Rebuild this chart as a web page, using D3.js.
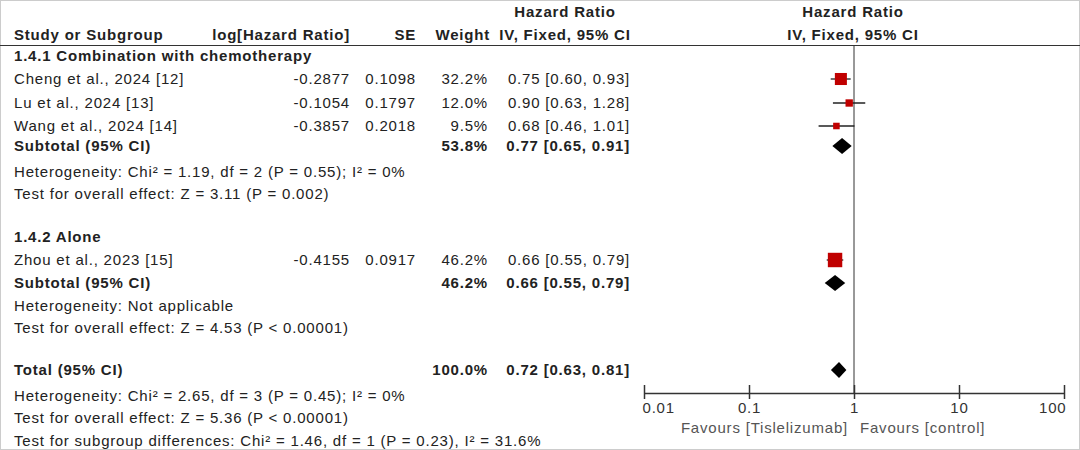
<!DOCTYPE html>
<html><head><meta charset="utf-8">
<script src="https://cdn.jsdelivr.net/npm/d3@7"></script>
<style>body{margin:0;background:#fff}svg{font-family:"Liberation Sans",Arial,sans-serif;font-size:15px;letter-spacing:0.8px}</style>
</head><body><svg width="1080" height="450"></svg>
<script>
// исследования
const studies = ["Cheng et al., 2024 [12]", "Lu et al., 2024 [13]", "Wang et al., 2024 [14]", "Zhou et al., 2023 [15]"];
const logHR = ["-0.2877", "-0.1054", "-0.3857", "-0.4155"];
const seVals = ["0.1098", "0.1797", "0.2018", "0.0917"];
const weights = [32.2, 12.0, 9.5, 46.2];
const hr = [0.75, 0.90, 0.68, 0.66];
const hrLo = [0.60, 0.63, 0.46, 0.55];
const hrHi = [0.93, 1.28, 1.01, 0.79];
// суммарные (подгруппы и итог)
const sumLabels = ["Subtotal (95% CI)", "Subtotal (95% CI)", "Total (95% CI)"];
const sumWeights = ["53.8%", "46.2%", "100.0%"];
const sumHR = [0.77, 0.66, 0.72];
const sumLo = [0.65, 0.55, 0.63];
const sumHi = [0.91, 0.79, 0.81];
const ticks = [0.01, 0.1, 1, 10, 100];

const svg = d3.select("svg");
const rowY = {s: [79, 103, 126, 260], sum: [146, 283, 370]};
svg.append("rect").attr("x", 0.5).attr("y", 0.5).attr("width", 1079).attr("height", 449)
  .attr("fill", "none").attr("stroke", "#ccc");

function txt(x, y, s, anchor, bold) {
  return svg.append("text").attr("x", x).attr("y", y).attr("text-anchor", anchor || "start")
    .attr("font-weight", bold ? "bold" : null).attr("fill", "#222").text(s);
}
// заголовки
txt(565, 17, "Hazard Ratio", "middle", true);
txt(853, 17, "Hazard Ratio", "middle", true);
txt(14, 40, "Study or Subgroup", "start", true);
txt(350, 40, "log[Hazard Ratio]", "end", true);
txt(416, 40, "SE", "end", true);
txt(490, 40, "Weight", "end", true);
txt(565, 40, "IV, Fixed, 95% CI", "middle", true);
txt(853, 40, "IV, Fixed, 95% CI", "middle", true);
svg.append("line").attr("x1", 0).attr("x2", 1080).attr("y1", 45.5).attr("y2", 45.5).attr("stroke", "#333");

txt(14, 61, "1.4.1 Combination with chemotherapy", "start", true);
txt(14, 242, "1.4.2 Alone", "start", true);
const f = d => d.toFixed(2);
studies.forEach((s, i) => {
  const y = rowY.s[i] + 5;
  txt(14, y, s); txt(350, y, logHR[i], "end"); txt(416, y, seVals[i], "end");
  txt(488, y, weights[i].toFixed(1) + "%", "end");
  txt(630, y, `${f(hr[i])} [${f(hrLo[i])}, ${f(hrHi[i])}]`, "end");
});
sumLabels.forEach((s, i) => {
  const y = rowY.sum[i] + 5;
  txt(14, y, s, "start", true); txt(488, y, sumWeights[i], "end", true);
  txt(630, y, `${f(sumHR[i])} [${f(sumLo[i])}, ${f(sumHi[i])}]`, "end", true);
});
const notes = [[177, "Heterogeneity: Chi² = 1.19, df = 2 (P = 0.55); I² = 0%"],
  [199, "Test for overall effect: Z = 3.11 (P = 0.002)"],
  [311, "Heterogeneity: Not applicable"],
  [333, "Test for overall effect: Z = 4.53 (P < 0.00001)"],
  [401, "Heterogeneity: Chi² = 2.65, df = 3 (P = 0.45); I² = 0%"],
  [423, "Test for overall effect: Z = 5.36 (P < 0.00001)"],
  [446, "Test for subgroup differences: Chi² = 1.46, df = 1 (P = 0.23), I² = 31.6%"]];
notes.forEach(n => txt(14, n[0], n[1]));

// шкала
const x = d3.scaleLog().domain([0.01, 100]).range([644, 1064]);
const axisY = 393;
svg.append("line").attr("x1", x(1)).attr("x2", x(1)).attr("y1", 45).attr("y2", axisY).attr("stroke", "#333");
const ax = svg.append("g").attr("transform", `translate(0,${axisY})`)
  .call(d3.axisBottom(x).tickValues(ticks).tickFormat(d => d).tickSize(0).tickPadding(9));
ax.select(".domain").attr("stroke", "#333").attr("stroke-width", 1.5);
ax.selectAll(".tick line").attr("y1", -8).attr("y2", 6).attr("stroke", "#333").attr("stroke-width", 1.5);
ax.selectAll("text").attr("font-size", 15).attr("fill", "#333").attr("font-family", "Liberation Sans,Arial")
  .attr("text-anchor", d => d === 0.01 ? "start" : d === 100 ? "end" : "middle")
  .attr("dx", d => d === 0.01 ? -2 : d === 100 ? 2 : 0);
txt(x(1) - 6, 433, "Favours [Tislelizumab]", "end").attr("fill", "#555");
txt(x(1) + 6, 433, "Favours [control]", "start").attr("fill", "#555");

// точки исследований
const sz = d3.scaleSqrt().domain([0, 50]).range([0, 15]);
studies.forEach((s, i) => {
  const y = rowY.s[i];
  svg.append("line").attr("x1", x(hrLo[i])).attr("x2", x(hrHi[i])).attr("y1", y).attr("y2", y).attr("stroke", "#222").attr("stroke-width", 1.3);
  const w = Math.max(5, sz(weights[i]));
  svg.append("rect").attr("x", x(hr[i]) - w / 2).attr("y", y - w / 2).attr("width", w).attr("height", w).attr("fill", "#c00000");
});
sumLabels.forEach((s, i) => {
  const y = rowY.sum[i];
  const pts = [[x(sumLo[i]) - 2, y], [x(sumHR[i]), y - 8], [x(sumHi[i]) + 2, y], [x(sumHR[i]), y + 8]];
  svg.append("polygon").attr("points", pts.map(p => p.join(",")).join(" ")).attr("fill", "#000");
});
</script></body></html>
